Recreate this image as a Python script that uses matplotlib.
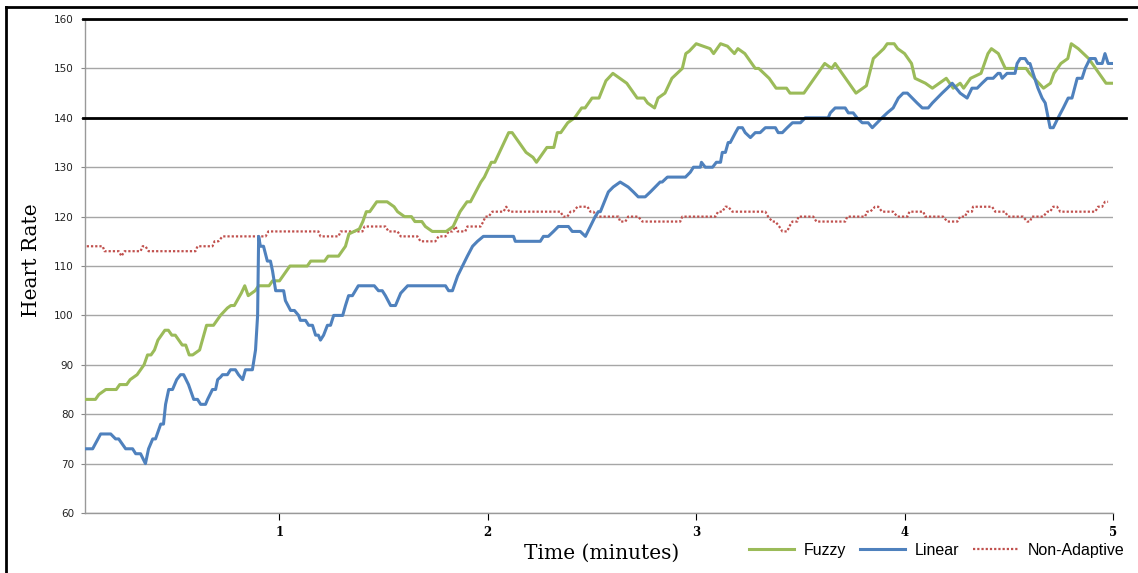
import numpy as np
import matplotlib
matplotlib.use("Agg")
import matplotlib.pyplot as plt
from matplotlib.lines import Line2D

# time in seconds, heart rate in bpm
fuzzy_t = [4, 7, 8, 10, 13, 14, 16, 17, 19, 20, 21, 22, 23, 24, 25, 27, 28, 29, 30, 32, 33, 34, 35, 37,
           39, 41, 43, 45, 46, 47, 49, 50, 51, 53, 54, 57, 58, 60, 63, 68, 69, 73, 74, 77, 79, 80, 83, 84,
           85, 86, 88, 91, 93, 94, 96, 98, 99, 101, 102, 104, 108, 110, 112, 114, 115, 118, 119, 121, 122,
           124, 126, 127, 128, 129, 131, 133, 134, 137, 139, 140, 141, 143, 145, 147, 148, 150, 152, 154,
           156, 158, 160, 163, 165, 166, 168, 169, 171, 173, 176, 177, 178, 180, 182, 184, 185, 187, 189,
           191, 192, 194, 197, 198, 201, 203, 206, 207, 211, 214, 217, 219, 220, 226, 229, 231, 234, 235,
           237, 238, 240, 242, 243, 246, 248, 250, 252, 254, 256, 257, 259, 262, 263, 264, 265, 267, 269,
           275, 276, 280, 282, 283, 285, 287, 288, 290, 293, 295, 296, 298, 300]
fuzzy_hr = [83, 83, 84, 85, 85, 86, 86, 87, 88, 89, 90, 92, 92, 93, 95, 97, 97, 96, 96, 94, 94, 92, 92, 93,
            98, 98, 100, 101.5, 102, 102, 104.5, 106, 104, 105, 106, 106, 107, 107, 110, 110, 111, 111, 112,
            112, 114, 116.5, 117.5, 119, 121, 121, 123, 123, 122, 121, 120, 120, 119, 119, 118, 117, 117,
            118, 121, 123, 123, 127, 128, 131, 131, 134, 137, 137, 136, 135, 133, 132, 131, 134, 134, 137,
            137, 139, 140, 142, 142, 144, 144, 147.5, 149, 148, 147, 144, 144, 143, 142, 144, 145, 148, 150,
            153, 153.5, 155, 154.5, 154, 153, 155, 154.5, 153, 154, 153, 150, 150, 148, 146, 146, 145, 145,
            148, 151, 150, 151, 145, 146.5, 152, 154, 155, 155, 154, 153, 151, 148, 147, 146, 147, 148, 146,
            147, 146, 148, 149, 151, 153, 154, 153, 150, 150, 149, 146, 147, 149, 151, 152, 155, 154, 152,
            150, 149, 147, 147]

linear_t = [4.2, 6.2, 8.5, 11.4, 12.8, 13.7, 15.7, 17.7, 18.6, 20.0, 21.4, 22.3, 23.5, 24.3, 25.8, 26.6,
            27.2, 28.1, 29.2, 30.4, 31.5, 32.4, 33.8, 35.3, 36.4, 37.3, 38.7, 39.3, 40.7, 41.6, 42.2, 43.0,
            43.6, 45.0, 45.9, 47.3, 48.2, 49.4, 50.2, 52.2, 53.1, 53.7, 54.0, 54.5, 55.4, 56.5, 57.4, 58.0,
            58.9, 61.2, 61.7, 63.2, 64.3, 65.5, 66.0, 67.5, 68.4, 69.5, 70.4, 71.2, 71.8, 72.7, 73.8, 74.7,
            75.6, 78.2, 79.0, 79.9, 81.0, 82.7, 87.3, 88.5, 89.6, 90.5, 92.0, 93.4, 94.9, 96.9, 107.8, 108.7,
            109.8, 111.3, 112.7, 114.1, 115.6, 117.0, 118.7, 127.4, 127.9, 135.1, 136.0, 137.4, 138.9, 140.3,
            143.2, 144.3, 146.6, 148.1, 149.5, 150.9, 151.8, 152.4, 154.7, 156.1, 158.1, 160.4, 161.9, 163.3,
            165.3, 166.8, 168.2, 169.6, 170.2, 171.7, 176.9, 178.3, 179.2, 181.2, 181.5, 182.6, 184.7, 185.8,
            187.0, 187.5, 188.4, 189.2, 189.8, 191.3, 192.1, 193.3, 194.1, 195.6, 197.0, 198.4, 199.9, 202.8,
            203.6, 204.8, 206.2, 207.7, 210.0, 211.4, 218.0, 218.6, 220.0, 222.9, 223.8, 225.2, 226.3, 227.8,
            229.5, 230.7, 232.1, 233.5, 235.0, 236.7, 238.2, 239.6, 240.8, 242.2, 243.6, 245.1, 246.8, 248.0,
            249.4, 250.8, 252.3, 253.7, 256.0, 258.0, 259.4, 260.9, 262.3, 263.8, 265.5, 266.9, 267.5, 268.1,
            269.5, 271.8, 272.4, 273.3, 274.7, 275.6, 276.1, 277.0, 278.4, 279.6, 280.5, 281.9, 282.8, 284.2,
            285.7, 287.1, 288.2, 289.7, 291.1, 292.0, 293.4, 294.9, 295.5, 296.9, 297.7, 298.6, 299.7]
linear_hr = [73, 73, 76, 76, 75, 75, 73, 73, 72, 72, 70, 73, 75, 75, 78, 78, 82, 85, 85, 87, 88, 88, 86, 83,
             83, 82, 82, 83, 85, 85, 87, 87.5, 88, 88, 89, 89, 88, 87, 89, 89, 93, 100, 116, 114, 114, 111,
             111, 109, 105, 105, 103, 101, 101, 100, 99, 99, 98, 98, 96, 96, 95, 96, 98, 98, 100, 100, 102,
             104, 104, 106, 106, 105, 105, 104, 102, 102, 104.5, 106, 106, 105, 105, 108, 110, 112, 114, 115,
             116, 116, 115, 115, 116, 116, 117, 118, 118, 117, 117, 116, 118, 120, 121, 121, 125, 126, 127,
             126, 125, 124, 124, 125, 126, 127, 127, 128, 128, 129, 130, 130, 131, 130, 130, 131, 131, 133,
             133, 135, 135, 137, 138, 138, 137, 136, 137, 137, 138, 138, 137, 137, 138, 139, 139, 140, 140,
             141, 142, 142, 141, 141, 140, 139, 139, 138, 139, 140, 141, 142, 144, 145, 145, 144, 143, 142,
             142, 143, 144, 145, 146, 147, 145, 144, 146, 146, 147, 148, 148, 149, 149, 148, 149, 149, 151,
             152, 152, 151, 151, 149, 146, 144, 143, 138, 138, 140, 142, 144, 144, 148, 148, 150, 152, 152,
             151, 151, 153, 151, 151]

nonadapt_t = [4.5, 9.1, 9.6, 13.7, 14.5, 15.4, 20.0, 20.6, 21.4, 22.3, 35.8, 36.4, 40.7, 41.3, 42.4, 43.6,
              56.0, 56.8, 71.2, 71.8, 77.0, 77.6, 83.9, 84.5, 90.5, 91.4, 94.0, 94.9, 99.7, 100.6, 104.9,
              105.8, 107.8, 108.7, 109.8, 110.7, 111.3, 113.5, 114.1, 117.9, 118.7, 119.3, 120.2, 121.3,
              124.5, 125.3, 126.2, 140.9, 141.7, 142.9, 143.8, 144.6, 145.8, 148.7, 149.5, 150.4, 151.5,
              157.6, 158.1, 159.6, 160.4, 163.3, 164.5, 175.4, 176.0, 185.5, 186.3, 187.5, 188.4, 189.2,
              190.4, 199.9, 200.7, 201.9, 202.8, 203.9, 204.8, 206.2, 206.8, 207.7, 209.1, 209.4, 213.7,
              214.6, 222.9, 223.5, 228.6, 229.2, 230.1, 231.5, 232.4, 233.5, 236.7, 237.9, 240.8, 241.4,
              245.4, 245.9, 251.1, 252.3, 255.2, 256.0, 257.4, 258.0, 259.4, 259.7, 265.2, 266.1, 268.9,
              269.8, 274.1, 275.3, 276.1, 276.7, 279.9, 281.1, 281.9, 282.8, 283.9, 284.8, 294.9, 295.7,
              296.9, 297.7, 298.6]
nonadapt_hr = [114, 114, 113, 113, 112, 113, 113, 114, 114, 113, 113, 114, 114, 115, 115, 116, 116, 117,
               117, 116, 116, 117, 117, 118, 118, 117, 117, 116, 116, 115, 115, 116, 116, 117, 117, 118,
               117, 117, 118, 118, 119, 120, 120, 121, 121, 122, 121, 121, 120, 120, 121, 121, 122, 122,
               121, 121, 120, 120, 119, 119, 120, 120, 119, 119, 120, 120, 121, 121, 122, 122, 121, 121,
               120, 119, 119, 118, 117, 117, 118, 119, 119, 120, 120, 119, 119, 120, 120, 121, 121, 122,
               122, 121, 121, 120, 120, 121, 121, 120, 120, 119, 119, 120, 120, 121, 121, 122, 122, 121,
               121, 120, 120, 119, 119, 120, 120, 121, 121, 122, 122, 121, 121, 122, 122, 123, 123]

x_ticks = [1, 2, 3, 4, 5]
y_ticks = [60, 70, 80, 90, 100, 110, 120, 130, 140, 150, 160]
limit_lines = [140, 160]

fig = plt.figure(figsize=(11.38, 5.73), dpi=100)
ax = fig.add_axes([0.0747, 0.1047, 0.9033, 0.8621])

ax.plot(np.array(fuzzy_t) / 60, fuzzy_hr, color="#9bbb59", lw=2.2, label="Fuzzy", zorder=4)
ax.plot(np.array(linear_t) / 60, linear_hr, color="#4f81bd", lw=2.2, label="Linear", zorder=5)
ax.plot(np.array(nonadapt_t) / 60, nonadapt_hr, color="#c0504d", lw=1.6, ls=(0, (1, 0.9)),
        dash_capstyle="butt", label="Non-Adaptive", zorder=3)

for v in limit_lines:
    ax.axhline(v, xmin=-0.002, xmax=1.0125, color="black", lw=2.0, clip_on=False, zorder=6)

ax.set_xlim(4 / 60, 5.0)
ax.set_ylim(60, 160)
ax.set_yticks(y_ticks)
ax.set_xticks(x_ticks)
ax.set_xticklabels([str(v) for v in x_ticks], family="DejaVu Serif", fontweight="bold", fontsize=8.5)
ax.tick_params(axis="y", length=3, color="#888888", labelsize=7.5, labelcolor="#222222", pad=5)
ax.tick_params(axis="x", length=5, color="black", direction="out", pad=4)
ax.grid(axis="y", color="#a6a6a6", lw=1.0)
ax.set_axisbelow(True)
for s in ["top", "right"]:
    ax.spines[s].set_visible(False)
for s in ["left", "bottom"]:
    ax.spines[s].set_color("#999999")
    ax.spines[s].set_linewidth(1.0)

fig.text(0.028, 0.546, "Heart Rate", rotation=90, ha="center", va="center",
         family="DejaVu Serif", fontsize=14.5)
fig.text(0.529, 0.035, "Time (minutes)", ha="center", va="center",
         family="DejaVu Serif", fontsize=14.5)

ax.legend(loc="center left", bbox_to_anchor=(0.632, -0.075), ncol=3, frameon=False,
          prop={"family": "Liberation Sans", "size": 11.5}, handlelength=2.8,
          columnspacing=0.9, handletextpad=0.6)

# outer frame lines
fig.add_artist(Line2D([0.0055, 0.0055], [0, 0.988], color="black", lw=2, transform=fig.transFigure))
fig.add_artist(Line2D([0.0055, 1.0], [0.988, 0.988], color="black", lw=2, transform=fig.transFigure))

fig.savefig("out.png", dpi=100)
